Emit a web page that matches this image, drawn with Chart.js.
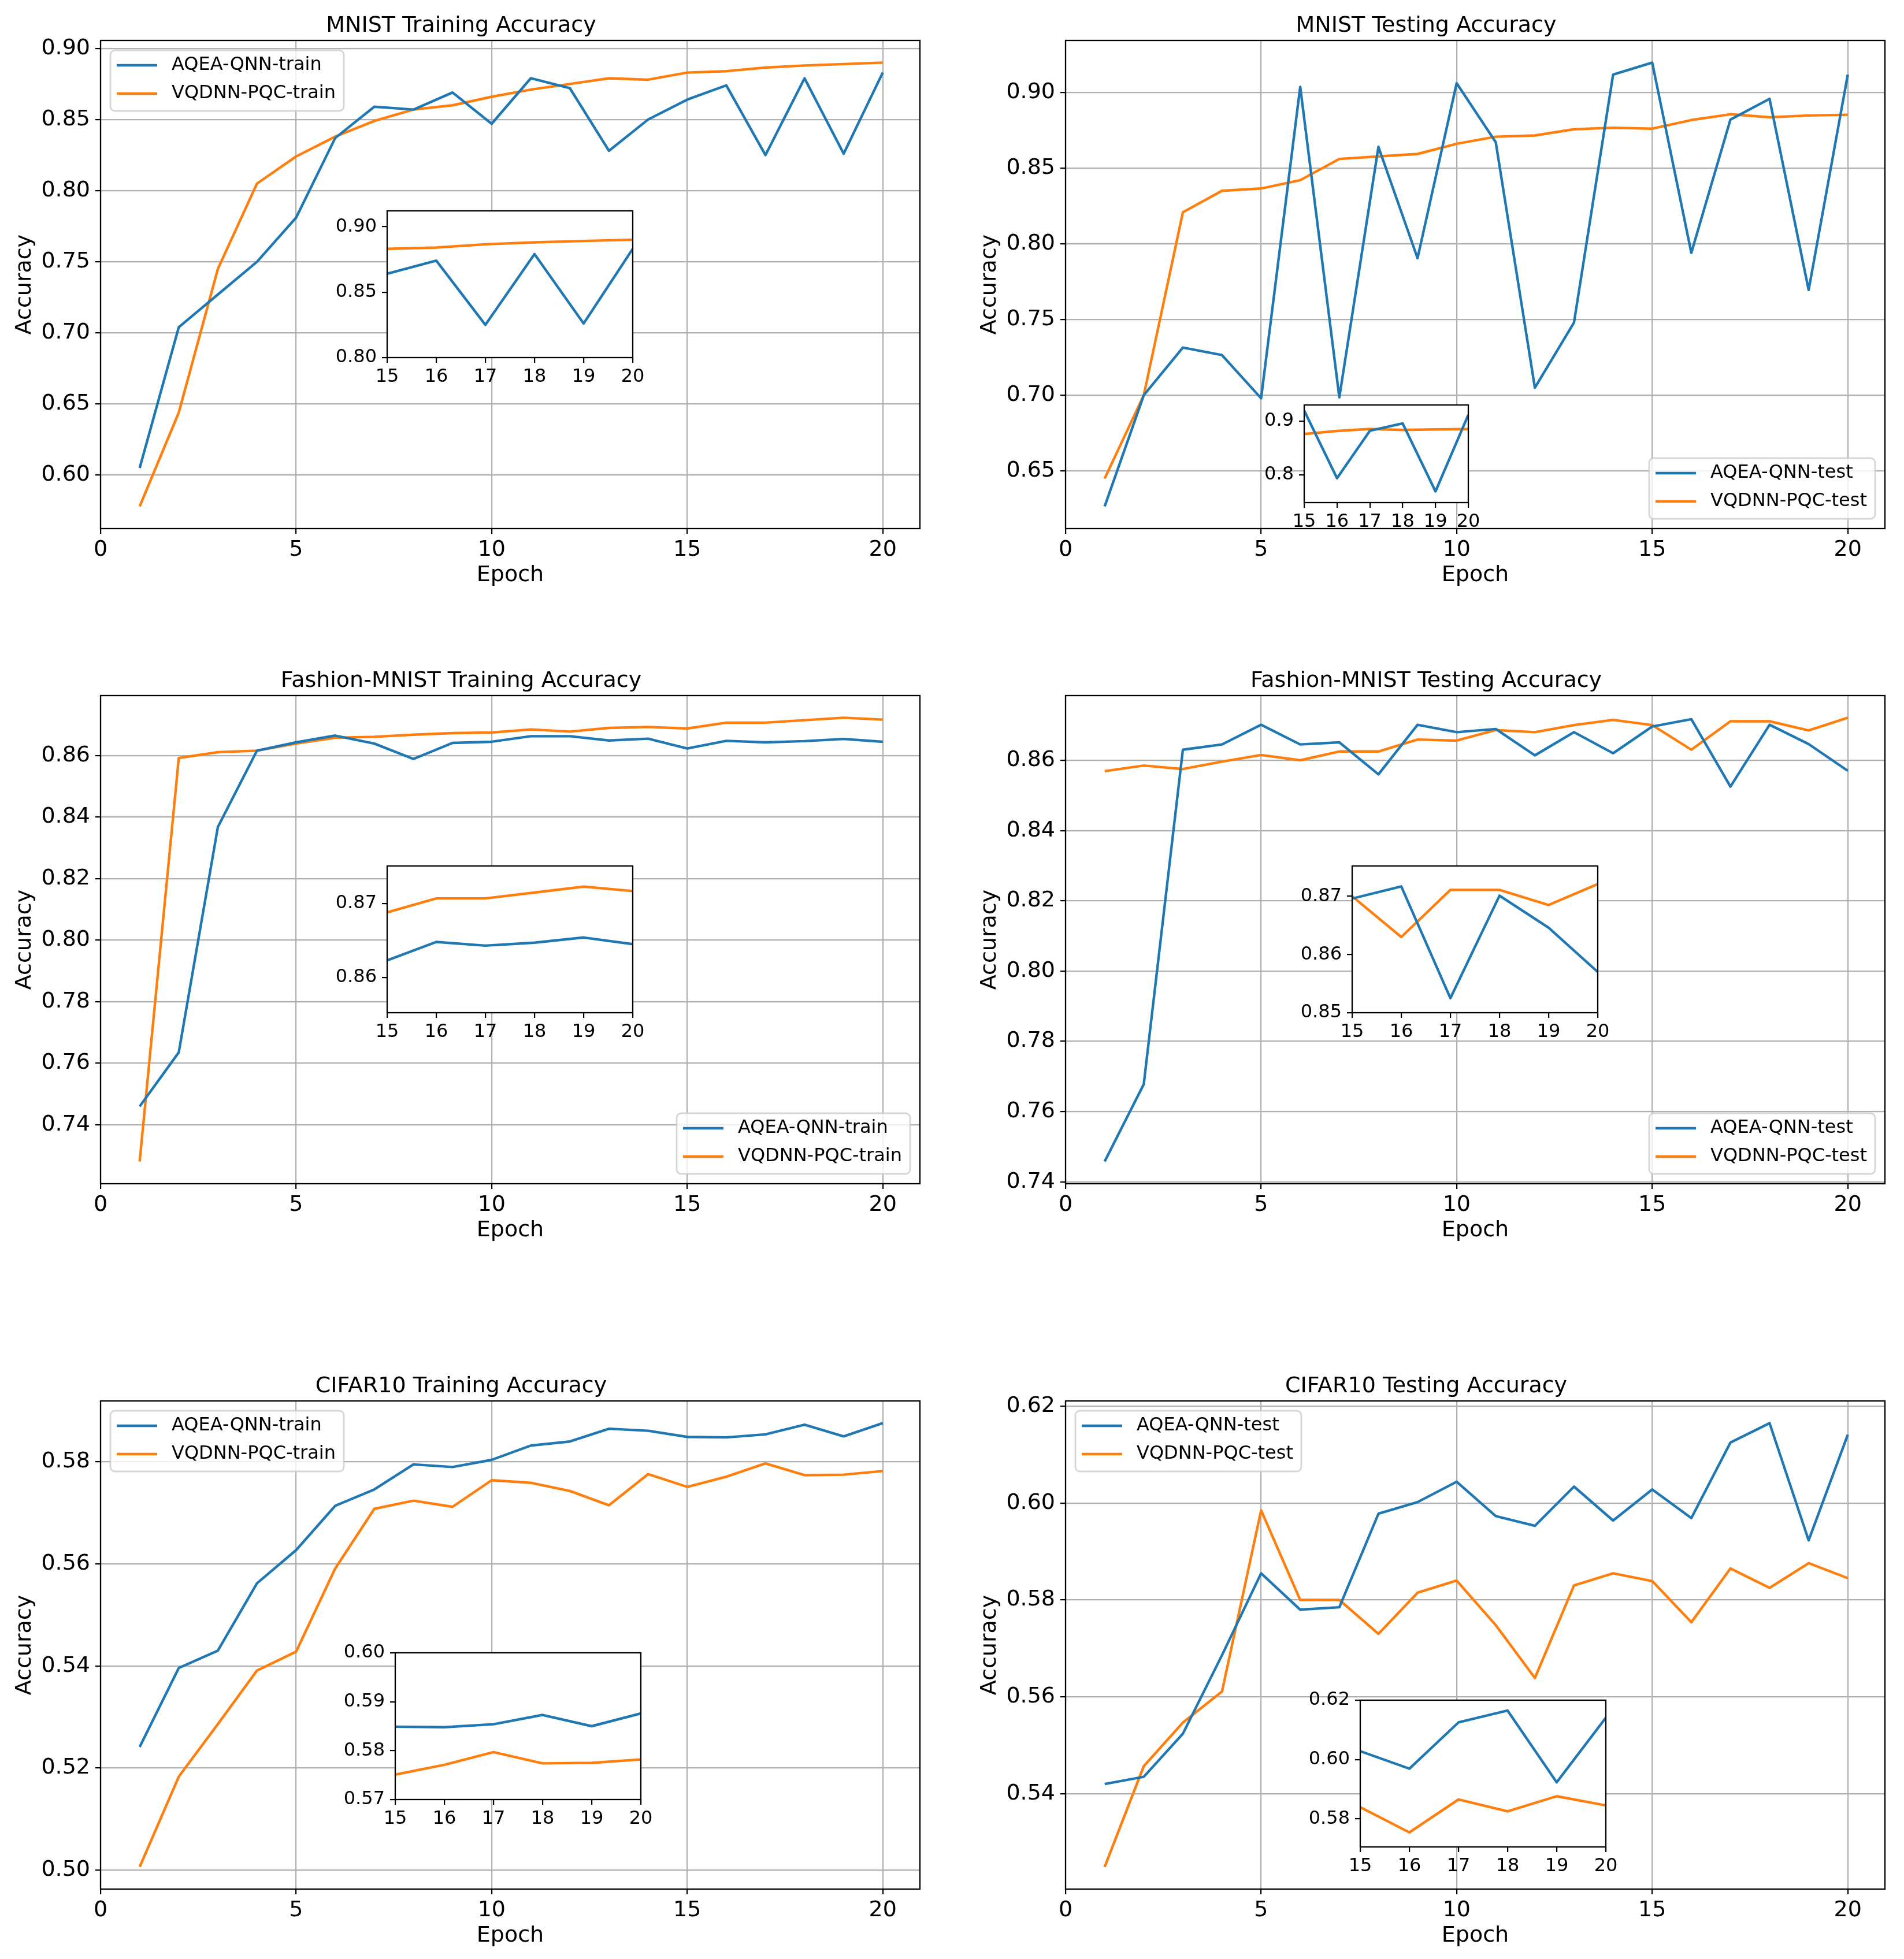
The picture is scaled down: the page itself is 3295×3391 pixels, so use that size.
<!DOCTYPE html>
<html>
<head>
<meta charset="utf-8">
<script src="https://cdn.jsdelivr.net/npm/chart.js@4.4.1/dist/chart.umd.min.js"></script>
<style>
  body { margin: 0; background: #fff; }
  #fig { position: relative; width: 3295px; height: 3391px; background: #fff; }
  #fig canvas { position: absolute; }
</style>
</head>
<body>
<div id="fig"></div>
<script>
// data
const epochs = [1, 2, 3, 4, 5, 6, 7, 8, 9, 10, 11, 12, 13, 14, 15, 16, 17, 18, 19, 20];
const xTicks = [0, 5, 10, 15, 20];
const insetXTicks = [15, 16, 17, 18, 19, 20];

const mnistTrainAqea = [0.605, 0.704, 0.727, 0.750, 0.781, 0.837, 0.859, 0.857, 0.869, 0.847, 0.879, 0.872, 0.828, 0.850, 0.864, 0.874, 0.825, 0.879, 0.826, 0.883];
const mnistTrainVqdnn = [0.578, 0.644, 0.745, 0.805, 0.824, 0.838, 0.849, 0.857, 0.860, 0.866, 0.871, 0.875, 0.879, 0.878, 0.883, 0.884, 0.8865, 0.888, 0.889, 0.890];
const mnistTestAqea = [0.6266, 0.700, 0.7315, 0.7265, 0.698, 0.9036, 0.6986, 0.864, 0.7905, 0.906, 0.867, 0.705, 0.748, 0.9117, 0.9196, 0.794, 0.882, 0.8957, 0.7695, 0.9117];
const mnistTestVqdnn = [0.645, 0.700, 0.8208, 0.835, 0.8365, 0.842, 0.856, 0.8577, 0.8593, 0.866, 0.8707, 0.8715, 0.8756, 0.8766, 0.876, 0.8817, 0.8855, 0.8835, 0.8847, 0.8852];

const fashionTrainAqea = [0.7459, 0.7635, 0.8368, 0.8616, 0.8643, 0.8665, 0.8639, 0.8589, 0.8641, 0.8645, 0.8663, 0.8663, 0.8649, 0.8655, 0.8623, 0.8648, 0.8643, 0.8647, 0.8654, 0.8645];
const fashionTrainVqdnn = [0.728, 0.8592, 0.8611, 0.8616, 0.8639, 0.8658, 0.8661, 0.8668, 0.8673, 0.8675, 0.8685, 0.8678, 0.869, 0.8693, 0.8688, 0.8707, 0.8707, 0.8715, 0.8723, 0.8717];
const fashionTestAqea = [0.7458, 0.7678, 0.863, 0.8645, 0.8701, 0.8645, 0.8651, 0.856, 0.8701, 0.868, 0.8689, 0.8614, 0.868, 0.862, 0.8696, 0.8717, 0.8525, 0.8701, 0.8646, 0.857];
const fashionTestVqdnn = [0.8569, 0.8585, 0.8575, 0.8596, 0.8615, 0.860, 0.8625, 0.8625, 0.8659, 0.8656, 0.8686, 0.868, 0.870, 0.8715, 0.870, 0.863, 0.8711, 0.8711, 0.8685, 0.8721];

const cifarTrainAqea = [0.5241, 0.5396, 0.543, 0.5562, 0.5627, 0.5714, 0.5746, 0.5795, 0.579, 0.5804, 0.5832, 0.584, 0.5865, 0.5861, 0.5849, 0.5848, 0.5854, 0.5873, 0.585, 0.5876];
const cifarTrainVqdnn = [0.5006, 0.5183, 0.5286, 0.5391, 0.5428, 0.5591, 0.5708, 0.5724, 0.5712, 0.5764, 0.5759, 0.5743, 0.5715, 0.5776, 0.5751, 0.5771, 0.5797, 0.5774, 0.5775, 0.5782];
const cifarTestAqea = [0.542, 0.5435, 0.5524, 0.5686, 0.5855, 0.578, 0.5785, 0.5978, 0.6002, 0.6044, 0.5973, 0.5953, 0.6034, 0.5964, 0.6028, 0.5969, 0.6125, 0.6165, 0.5923, 0.6141];
const cifarTestVqdnn = [0.5249, 0.5457, 0.5547, 0.5611, 0.5985, 0.58, 0.58, 0.573, 0.5815, 0.584, 0.5748, 0.5639, 0.583, 0.5855, 0.5839, 0.5754, 0.5865, 0.5825, 0.5876, 0.5845];

// tick labels
const mnistTrainTicks = [0.60, 0.65, 0.70, 0.75, 0.80, 0.85, 0.90];
const mnistTestTicks = [0.65, 0.70, 0.75, 0.80, 0.85, 0.90];
const fashionTicks = [0.74, 0.76, 0.78, 0.80, 0.82, 0.84, 0.86];
const cifarTrainTicks = [0.50, 0.52, 0.54, 0.56, 0.58];
const cifarTestTicks = [0.54, 0.56, 0.58, 0.60, 0.62];

const mnistTrainInsetTicks = [0.80, 0.85, 0.90];
const mnistTestInsetTicks = [0.8, 0.9];
const fashionTrainInsetTicks = [0.86, 0.87];
const fashionTestInsetTicks = [0.85, 0.86, 0.87];
const cifarTrainInsetTicks = [0.57, 0.58, 0.59, 0.60];
const cifarTestInsetTicks = [0.58, 0.60, 0.62];

const FONT = '"DejaVu Sans", sans-serif';
const BLUE = '#1f77b4';
const ORANGE = '#ff7f0e';
const fig = document.getElementById('fig');

// axes boxes in page pixels
const colLeft = [174, 1844];
const rowTop = [70, 1204, 2425];
const AX_W = 1418, AX_H = 845;
const TITLE_H = 48, Y_AXIS_W = 170, X_AXIS_H = 110, PAD_R = 20;

Chart.defaults.font.family = FONT;
Chart.defaults.color = '#000';

// white axes background + black spines on all four sides
const framePlugin = {
  id: 'frame',
  beforeDraw(chart) {
    const a = chart.chartArea, ctx = chart.ctx;
    ctx.save();
    ctx.fillStyle = '#fff';
    ctx.fillRect(a.left, a.top, a.right - a.left, a.bottom - a.top);
    ctx.restore();
  },
  afterDatasetsDraw(chart) {
    const a = chart.chartArea, ctx = chart.ctx;
    ctx.save();
    ctx.strokeStyle = '#000';
    ctx.lineWidth = 2.3;
    ctx.strokeRect(a.left, a.top, a.right - a.left, a.bottom - a.top);
    ctx.restore();
  }
};

// matplotlib-like legend box inside the axes
const legendPlugin = {
  id: 'mplLegend',
  afterDraw(chart, args, opts) {
    if (!opts || !opts.corner) return;
    const ctx = chart.ctx, a = chart.chartArea;
    const sets = chart.data.datasets;
    ctx.save();
    ctx.font = '32px ' + FONT;
    const textW = Math.max(...sets.map(d => ctx.measureText(d.label).width));
    const w = 106 + textW + 14, h = 105;
    const x = opts.corner === 'ul' ? a.left + 17 : a.right - 17 - w;
    const y = opts.corner === 'ul' ? a.top + 17 : a.bottom - 17 - h;
    ctx.globalAlpha = 0.8;
    ctx.beginPath();
    ctx.roundRect(x, y, w, h, 8);
    ctx.fillStyle = '#fff';
    ctx.fill();
    ctx.strokeStyle = '#cccccc';
    ctx.lineWidth = 2.8;
    ctx.stroke();
    ctx.globalAlpha = 1;
    sets.forEach((d, i) => {
      const cy = y + 26 + i * 49;
      ctx.beginPath();
      ctx.moveTo(x + 11, cy);
      ctx.lineTo(x + 81, cy);
      ctx.strokeStyle = d.borderColor;
      ctx.lineWidth = d.borderWidth;
      ctx.stroke();
      ctx.fillStyle = '#000';
      ctx.textBaseline = 'middle';
      ctx.textAlign = 'left';
      ctx.fillText(d.label, x + 106, cy);
    });
    ctx.restore();
  }
};

function addCanvas(left, top, w, h) {
  const c = document.createElement('canvas');
  c.width = w;
  c.height = h;
  c.style.left = left + 'px';
  c.style.top = top + 'px';
  c.style.width = w + 'px';
  c.style.height = h + 'px';
  fig.appendChild(c);
  return c;
}

function toPoints(xs, ys) {
  return xs.map((x, i) => ({x: x, y: ys[i]}));
}

function makeDatasets(labels, aqea, vqdnn, xs) {
  return [
    {label: labels[0], data: toPoints(xs, aqea), borderColor: BLUE, backgroundColor: BLUE,
     borderWidth: 4.4, pointRadius: 0, tension: 0, borderJoinStyle: 'round', fill: false},
    {label: labels[1], data: toPoints(xs, vqdnn), borderColor: ORANGE, backgroundColor: ORANGE,
     borderWidth: 4.4, pointRadius: 0, tension: 0, borderJoinStyle: 'round', fill: false}
  ];
}

function gridOpts(showLines) {
  return {
    display: true,
    drawOnChartArea: showLines,
    color: '#b0b0b0',
    lineWidth: 2.2,
    tickColor: '#000',
    tickWidth: 2.2,
    tickLength: 9
  };
}

function mainChart(col, row, title, labels, aqea, vqdnn, yTicks, corner) {
  const L = colLeft[col], T = rowTop[row];
  const all = aqea.concat(vqdnn);
  const lo = Math.min(...all), hi = Math.max(...all);
  const m = (hi - lo) * 0.05;
  const xMax = epochs[epochs.length - 1] + (epochs[epochs.length - 1] - epochs[0]) * 0.05;
  const canvas = addCanvas(L - Y_AXIS_W, T - TITLE_H, Y_AXIS_W + AX_W + PAD_R, TITLE_H + AX_H + X_AXIS_H);

  new Chart(canvas, {
    type: 'line',
    data: {datasets: makeDatasets(labels, aqea, vqdnn, epochs)},
    plugins: [framePlugin, legendPlugin],
    options: {
      responsive: false,
      animation: false,
      devicePixelRatio: 1,
      events: [],
      layout: {padding: {left: 0, top: 0, right: PAD_R, bottom: 0}},
      plugins: {
        legend: {display: false},
        tooltip: {enabled: false},
        title: {
          display: true,
          text: title,
          color: '#000',
          font: {family: FONT, size: 38, weight: 'normal', lineHeight: 1.2},
          padding: {top: 0, bottom: 2.4}
        },
        mplLegend: {corner: corner}
      },
      scales: {
        x: {
          type: 'linear',
          min: 0,
          max: xMax,
          afterBuildTicks: s => { s.ticks = xTicks.map(v => ({value: v})); },
          afterFit: s => { s.height = X_AXIS_H; s.paddingLeft = 0; s.paddingRight = 0; },
          ticks: {font: {family: FONT, size: 38}, color: '#000', padding: 5, maxRotation: 0, autoSkip: false,
                  callback: v => String(v)},
          grid: gridOpts(true),
          border: {display: false},
          title: {display: true, text: 'Epoch', color: '#000', font: {family: FONT, size: 38, lineHeight: 1.2},
                  padding: {top: 0, bottom: 6}}
        },
        y: {
          type: 'linear',
          min: lo - m,
          max: hi + m,
          afterBuildTicks: s => { s.ticks = yTicks.map(v => ({value: v})); },
          afterFit: s => { s.width = Y_AXIS_W; s.paddingTop = 0; s.paddingBottom = 0; },
          ticks: {font: {family: FONT, size: 38}, color: '#000', padding: 9, autoSkip: false,
                  callback: v => v.toFixed(2)},
          grid: gridOpts(true),
          border: {display: false},
          title: {display: true, text: 'Accuracy', color: '#000', font: {family: FONT, size: 38, lineHeight: 1.2},
                  padding: {top: 16, bottom: 0}}
        }
      }
    }
  });
}

// inset: box = [left, bottom, width, height] as fractions of the parent axes
function insetChart(col, row, box, aqea, vqdnn, yMin, yMax, yTicks, dec) {
  const L = colLeft[col], T = rowTop[row];
  const ix = Math.round(L + box[0] * AX_W);
  const iw = Math.round(box[2] * AX_W);
  const ih = Math.round(box[3] * AX_H);
  const iy = Math.round(T + AX_H - box[1] * AX_H) - ih;
  const padL = 110, padT = 25, padR = 30, padB = 60;
  const canvas = addCanvas(ix - padL, iy - padT, iw + padL + padR, ih + padT + padB);
  const xs = epochs.slice(14);

  new Chart(canvas, {
    type: 'line',
    data: {datasets: makeDatasets(['', ''], aqea.slice(14), vqdnn.slice(14), xs)},
    plugins: [framePlugin],
    options: {
      responsive: false,
      animation: false,
      devicePixelRatio: 1,
      events: [],
      layout: {padding: {left: 0, top: padT, right: padR, bottom: 0}},
      plugins: {legend: {display: false}, tooltip: {enabled: false}},
      scales: {
        x: {
          type: 'linear',
          min: 15,
          max: 20,
          afterBuildTicks: s => { s.ticks = insetXTicks.map(v => ({value: v})); },
          afterFit: s => { s.height = padB; s.paddingLeft = 0; s.paddingRight = 0; },
          ticks: {font: {family: FONT, size: 32}, color: '#000', padding: 5, maxRotation: 0, autoSkip: false,
                  callback: v => String(v)},
          grid: gridOpts(false),
          border: {display: false}
        },
        y: {
          type: 'linear',
          min: yMin,
          max: yMax,
          afterBuildTicks: s => { s.ticks = yTicks.map(v => ({value: v})); },
          afterFit: s => { s.width = padL; s.paddingTop = 0; s.paddingBottom = 0; },
          ticks: {font: {family: FONT, size: 32}, color: '#000', padding: 9, autoSkip: false,
                  callback: v => v.toFixed(dec)},
          grid: gridOpts(false),
          border: {display: false}
        }
      }
    }
  });
}

const trainLabels = ['AQEA-QNN-train', 'VQDNN-PQC-train'];
const testLabels = ['AQEA-QNN-test', 'VQDNN-PQC-test'];

mainChart(0, 0, 'MNIST Training Accuracy', trainLabels, mnistTrainAqea, mnistTrainVqdnn, mnistTrainTicks, 'ul');
mainChart(1, 0, 'MNIST Testing Accuracy', testLabels, mnistTestAqea, mnistTestVqdnn, mnistTestTicks, 'lr');
mainChart(0, 1, 'Fashion-MNIST Training Accuracy', trainLabels, fashionTrainAqea, fashionTrainVqdnn, fashionTicks, 'lr');
mainChart(1, 1, 'Fashion-MNIST Testing Accuracy', testLabels, fashionTestAqea, fashionTestVqdnn, fashionTicks, 'lr');
mainChart(0, 2, 'CIFAR10 Training Accuracy', trainLabels, cifarTrainAqea, cifarTrainVqdnn, cifarTrainTicks, 'ul');
mainChart(1, 2, 'CIFAR10 Testing Accuracy', testLabels, cifarTestAqea, cifarTestVqdnn, cifarTestTicks, 'ul');

insetChart(0, 0, [0.35, 0.35, 0.30, 0.30], mnistTrainAqea, mnistTrainVqdnn, 0.80, 0.912, mnistTrainInsetTicks, 2);
insetChart(1, 0, [0.291, 0.053, 0.20, 0.20], mnistTestAqea, mnistTestVqdnn, 0.7486, 0.93, mnistTestInsetTicks, 1);
insetChart(0, 1, [0.35, 0.35, 0.30, 0.30], fashionTrainAqea, fashionTrainVqdnn, 0.8552, 0.8751, fashionTrainInsetTicks, 2);
insetChart(1, 1, [0.35, 0.35, 0.30, 0.30], fashionTestAqea, fashionTestVqdnn, 0.85, 0.8752, fashionTestInsetTicks, 2);
insetChart(0, 2, [0.36, 0.184, 0.30, 0.30], cifarTrainAqea, cifarTrainVqdnn, 0.57, 0.60, cifarTrainInsetTicks, 2);
insetChart(1, 2, [0.36, 0.086, 0.30, 0.30], cifarTestAqea, cifarTestVqdnn, 0.5705, 0.62, cifarTestInsetTicks, 2);
</script>
</body>
</html>
